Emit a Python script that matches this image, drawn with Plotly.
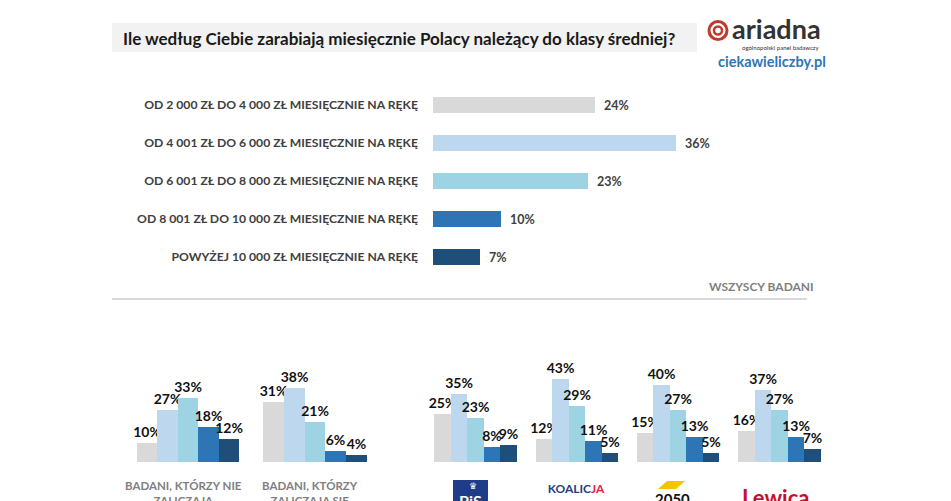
import plotly.graph_objects as go

W, H = 951, 501
FONT = "Lato"

# ---------------- data ----------------
categories = [
    "OD 2 000 ZŁ DO 4 000 ZŁ MIESIĘCZNIE NA RĘKĘ",
    "OD 4 001 ZŁ DO 6 000 ZŁ MIESIĘCZNIE NA RĘKĘ",
    "OD 6 001 ZŁ DO 8 000 ZŁ MIESIĘCZNIE NA RĘKĘ",
    "OD 8 001 ZŁ DO 10 000 ZŁ MIESIĘCZNIE NA RĘKĘ",
    "POWYŻEJ 10 000 ZŁ MIESIĘCZNIE NA RĘKĘ",
]
all_values = [24, 36, 23, 10, 7]

group_names = ["nie_zaliczaja", "zaliczaja", "PiS", "KO", "2050", "Lewica"]
nie_zaliczaja = [10, 27, 33, 18, 12]
zaliczaja = [31, 38, 21, 6, 4]
pis = [25, 35, 23, 8, 9]
ko = [12, 43, 29, 11, 5]
p2050 = [15, 40, 27, 13, 5]
lewica = [16, 37, 27, 13, 7]
group_values = [nie_zaliczaja, zaliczaja, pis, ko, p2050, lewica]

colors = ["#d9d9d9", "#bdd7ee", "#9dd3e3", "#2e75b6", "#1f4e79"]

title_text = "Ile według Ciebie zarabiają miesięcznie Polacy należący do klasy średniej?"


def px(x):
    return x / W


def py(y):
    return 1 - y / H


fig = go.Figure()

# ---------------- top chart ----------------
fig.add_trace(go.Bar(
    x=all_values, y=categories, orientation="h",
    marker=dict(color=colors, line=dict(width=0)),
    width=0.4,
    texttemplate="\u00a0\u00a0%{x}%", textposition="outside", cliponaxis=False,
    constraintext="none",
    textfont=dict(family=FONT, size=12.5, color="#404040", weight="bold"),
    xaxis="x", yaxis="y", showlegend=False, hoverinfo="skip",
))

layout_axes = dict(
    xaxis=dict(domain=[px(433), px(703)], range=[0, 40], visible=False, fixedrange=True),
    yaxis=dict(domain=[py(276), py(86)], type="category", categoryarray=categories,
               range=[4.5, -0.5], showgrid=False, zeroline=False, showline=False,
               ticks="", ticklabelstandoff=14,
               tickfont=dict(family=FONT, size=12.2, color="#404040", weight="bold"),
               anchor="x"),
)

# ---------------- bottom small multiples ----------------
domains = [(137, 239), (263, 367), (434, 517), (536, 618), (637, 719), (738, 821)]
positions = [0, 1, 2, 3, 4]
for i, (vals, dom) in enumerate(zip(group_values, domains)):
    n = i + 2
    fig.add_trace(go.Bar(
        x=positions, y=vals,
        marker=dict(color=colors, line=dict(width=0)),
        texttemplate="%{y}%", textposition="outside", cliponaxis=False,
        constraintext="none",
        textfont=dict(family=FONT, size=14, color="#111111", weight="bold"),
        xaxis=f"x{n}", yaxis=f"y{n}", showlegend=False, hoverinfo="skip",
    ))
    layout_axes[f"xaxis{n}"] = dict(domain=[px(dom[0]), px(dom[1])], range=[-0.5, 4.5],
                                    visible=False, anchor=f"y{n}")
    layout_axes[f"yaxis{n}"] = dict(domain=[py(462), py(364.5)], range=[0, 50],
                                    visible=False, anchor=f"x{n}")

fig.update_layout(**layout_axes)

shapes = []
annotations = []

# title box
shapes.append(dict(type="rect", xref="paper", yref="paper", x0=px(112), x1=px(697),
                   y0=py(52), y1=py(23), fillcolor="#f2f2f2", line=dict(width=0), layer="below"))
annotations.append(dict(text=title_text, xref="paper", yref="paper", x=px(121), y=py(38),
                        xanchor="left", yanchor="middle", showarrow=False,
                        font=dict(family=FONT, size=17, color="#1a1a1a", weight="bold")))

# ariadna logo
shapes.append(dict(type="circle", xref="paper", yref="paper", x0=px(709), x1=px(727),
                   y0=py(39.5), y1=py(21.5), line=dict(color="#c0392b", width=3)))
shapes.append(dict(type="circle", xref="paper", yref="paper", x0=px(714), x1=px(722),
                   y0=py(34.5), y1=py(26.5), line=dict(color="#c0392b", width=2.5)))
annotations.append(dict(text="ariadna", xref="paper", yref="paper", x=px(730), y=py(28),
                        xanchor="left", yanchor="middle", showarrow=False,
                        font=dict(family=FONT, size=27, color="#333333", weight="bold")))
annotations.append(dict(text="ogólnopolski panel badawczy", xref="paper", yref="paper",
                        x=px(822), y=py(47.5), xanchor="right", yanchor="middle", showarrow=False,
                        font=dict(family=FONT, size=6, color="#333333")))
annotations.append(dict(text="ciekawieliczby.pl", xref="paper", yref="paper", x=px(828), y=py(61),
                        xanchor="right", yanchor="middle", showarrow=False,
                        font=dict(family=FONT, size=14.5, color="#2e75b6", weight="bold")))

# WSZYSCY BADANI + separator
annotations.append(dict(text="WSZYSCY BADANI", xref="paper", yref="paper", x=px(816), y=py(286),
                        xanchor="right", yanchor="middle", showarrow=False,
                        font=dict(family=FONT, size=12, color="#7f7f7f", weight="bold")))
shapes.append(dict(type="line", xref="paper", yref="paper", x0=px(112), x1=px(807),
                   y0=py(299), y1=py(299), line=dict(color="#d9d9d9", width=2)))

# group labels
annotations.append(dict(text="BADANI, KTÓRZY NIE<br>ZALICZAJĄ<br>SIĘ DO KLASY<br>ŚREDNIEJ",
                        xref="x2 domain", yref="paper", x=0.46, y=py(477),
                        xanchor="center", yanchor="top", showarrow=False,
                        font=dict(family=FONT, size=11.5, color="#808080", weight="bold")))
annotations.append(dict(text="BADANI, KTÓRZY<br>ZALICZAJĄ SIĘ<br>DO KLASY<br>ŚREDNIEJ",
                        xref="x3 domain", yref="paper", x=0.45, y=py(477),
                        xanchor="center", yanchor="top", showarrow=False,
                        font=dict(family=FONT, size=11.5, color="#808080", weight="bold")))

# party logos
shapes.append(dict(type="rect", xref="paper", yref="paper", x0=px(453), x1=px(488),
                   y0=py(510), y1=py(480), fillcolor="#1f3c88", line=dict(width=0)))
annotations.append(dict(text="PiS", xref="paper", yref="paper", x=px(470.5), y=py(500),
                        xanchor="center", yanchor="middle", showarrow=False,
                        font=dict(family=FONT, size=16, color="white", weight="bold")))
annotations.append(dict(text="♛", xref="paper", yref="paper", x=px(473), y=py(486),
                        xanchor="center", yanchor="middle", showarrow=False,
                        font=dict(family="DejaVu Sans", size=9, color="white")))
annotations.append(dict(
    text="<span style='color:#1f3f7f'>KOALIC</span><span style='color:#e0263c'>JA</span>"
         "<br><span style='color:#e0263c'>OBYWATELSKA</span>",
    xref="paper", yref="paper", x=px(576), y=py(479), xanchor="center", yanchor="top",
    showarrow=False, font=dict(family=FONT, size=12, weight="bold")))
shapes.append(dict(type="path", xref="paper", yref="paper",
                   path=f"M {px(658)},{py(489)} L {px(667)},{py(481)} L {px(685)},{py(481)} "
                        f"L {px(676)},{py(489)} Z",
                   fillcolor="#f5c400", line=dict(width=0)))
annotations.append(dict(text="2050", xref="paper", yref="paper", x=px(672), y=py(499),
                        xanchor="center", yanchor="middle", showarrow=False,
                        font=dict(family=FONT, size=15, color="#111111", weight="bold")))
annotations.append(dict(text="Lewica", xref="paper", yref="paper", x=px(775), y=py(497),
                        xanchor="center", yanchor="middle", showarrow=False,
                        font=dict(family=FONT, size=22, color="#c8102e", weight="bold")))

fig.update_layout(
    width=W, height=H, margin=dict(l=0, r=0, t=0, b=0),
    paper_bgcolor="white", plot_bgcolor="white",
    bargap=0, showlegend=False,
    shapes=shapes, annotations=annotations,
    font=dict(family=FONT),
)

fig.write_html("out.html", config={"displayModeBar": False},
               post_script="document.body.style.margin='0px';document.body.style.overflow='hidden';")
